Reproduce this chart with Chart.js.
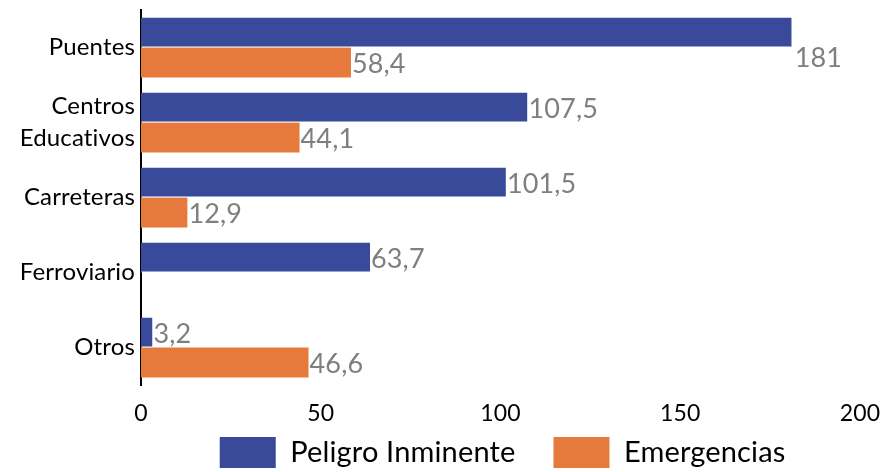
<!DOCTYPE html>
<html>
<head>
<meta charset="utf-8">
<script src="https://cdn.jsdelivr.net/npm/chart.js@4/dist/chart.umd.min.js"></script>
<style>
html,body{margin:0;padding:0;background:#fff;}
#wrap{width:883px;height:472px;position:relative;}
</style>
</head>
<body>
<div id="wrap"><canvas id="c"></canvas></div>
<script>
const categories = [['Puentes'], ['Centros', 'Educativos'], ['Carreteras'], ['Ferroviario'], ['Otros']];
const peligroInminente = [181, 107.5, 101.5, 63.7, 3.2];
const emergencias = [58.4, 44.1, 12.9, null, 46.6];
const xTicks = [0, 50, 100, 150, 200];
const seriesNames = ['Peligro Inminente', 'Emergencias'];
const seriesColors = ['#394a9b', '#e57a3c'];

const fmt = v => String(v).replace('.', ',');

const noLigatures = {
  id: 'noLigatures',
  beforeDraw(chart) { chart.ctx.letterSpacing = '0.15px'; }
};

const legendPlacement = {
  id: 'legendPlacement',
  afterLayout(chart) {
    const lg = chart.legend;
    if (!lg) return;
    const h = lg.height;
    lg.left = chart.chartArea.left;
    lg.right = chart.chartArea.right;
    lg.width = lg.right - lg.left;
    lg.top = 437 - lg.options.labels.padding;
    lg.bottom = lg.top + h;
  }
};

const labelPlugin = {
  id: 'barLabels',
  afterDatasetsDraw(chart) {
    const ctx = chart.ctx;
    ctx.save();
    ctx.font = '27px Lato';
    ctx.fillStyle = '#7f7f7f';
    ctx.textAlign = 'left';
    ctx.textBaseline = 'middle';
    chart.data.datasets.forEach((ds, di) => {
      const meta = chart.getDatasetMeta(di);
      meta.data.forEach((bar, i) => {
        const v = ds.data[i];
        if (v === null || v === undefined) return;
        const txt = fmt(v);
        const w = ctx.measureText(txt).width;
        const x = bar.x + 1;
        if (x + w > chart.chartArea.right - 25) {
          ctx.fillText(txt, x + 2, bar.y + bar.height / 2 + 11);
        } else {
          ctx.fillText(txt, x, bar.y + 2);
        }
      });
    });
    ctx.restore();
  }
};

new Chart(document.getElementById('c'), {
  type: 'bar',
  data: {
    labels: categories,
    datasets: [
      { label: seriesNames[0], data: peligroInminente, backgroundColor: seriesColors[0], borderColor: '#ffffff', borderWidth: {top:0,bottom:1,right:0,left:0}, borderSkipped: 'left' },
      { label: seriesNames[1], data: emergencias, backgroundColor: seriesColors[1], borderWidth: 0 }
    ]
  },
  options: {
    indexAxis: 'y',
    responsive: true,
    maintainAspectRatio: false,
    animation: false,
    categoryPercentage: 0.8,
    barPercentage: 1.0,
    layout: { padding: { top: 10, right: 23, left: 0, bottom: -36 } },
    plugins: {
      legend: {
        position: 'bottom',
        labels: {
          font: { family: 'Lato', size: 29 },
          color: '#000',
          boxWidth: 56,
          boxHeight: 31,
          padding: 38,
          generateLabels(chart) {
            return chart.data.datasets.map((ds, i) => ({
              text: ds.label, fillStyle: ds.backgroundColor, strokeStyle: ds.backgroundColor, lineWidth: 0, datasetIndex: i, fontColor: '#000'
            }));
          }
        }
      },
      tooltip: { enabled: false }
    },
    scales: {
      x: {
        min: 0, max: 200,
        afterBuildTicks(scale) { scale.ticks = xTicks.map(v => ({ value: v })); },
        afterFit(scale) { scale.height = 44; scale.paddingLeft = 0; scale.paddingRight = 0; },
        grid: { display: false, drawTicks: false },
        border: { display: false },
        ticks: { font: { family: 'Lato', size: 23 }, color: '#000', padding: 15, maxRotation: 0 }
      },
      y: {
        grid: { display: false, drawTicks: false },
        border: { display: true, color: '#000', width: 2 },
        afterFit(scale) { scale.width = 141; scale.paddingTop = 0; scale.paddingBottom = 0; },
        ticks: { font: { family: 'Lato', size: 24, lineHeight: 1.33 }, color: '#000', padding: 6 }
      }
    }
  },
  plugins: [noLigatures, legendPlacement, labelPlugin]
});
</script>
</body>
</html>
